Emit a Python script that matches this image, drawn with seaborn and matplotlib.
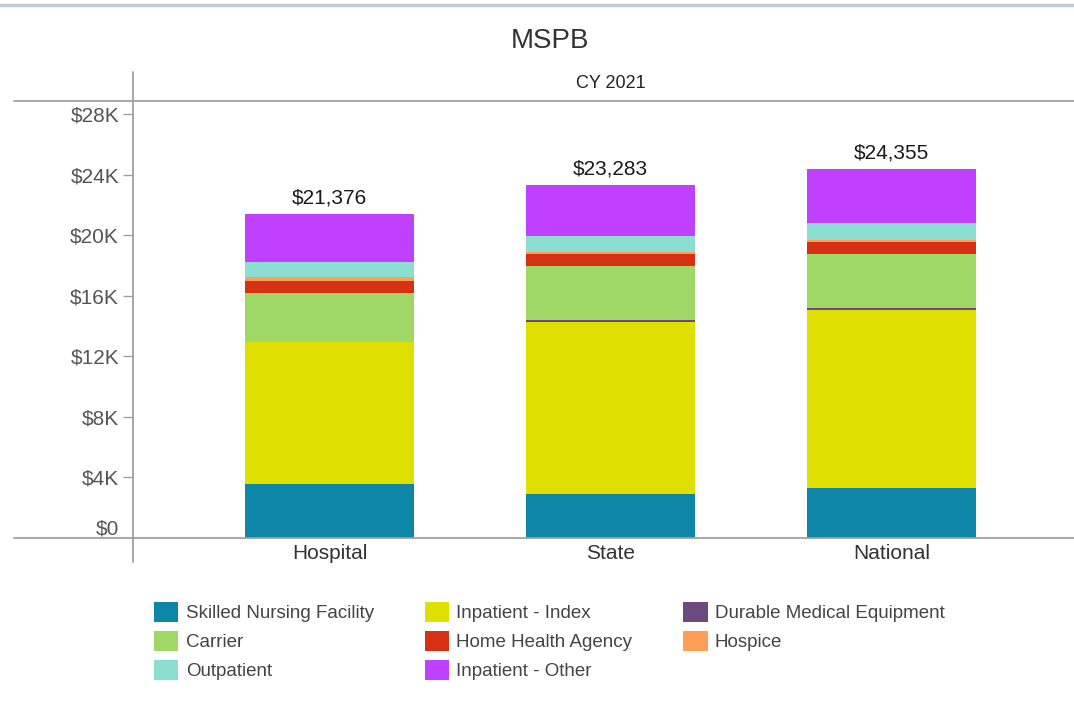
#!/usr/bin/env python3
# -*- coding: utf-8 -*-
# %% IMPORTO LIBRERIAS
import matplotlib
matplotlib.use("Agg")
import matplotlib.pyplot as plt
from matplotlib.lines import Line2D
from matplotlib.patches import Patch
import numpy as np
import seaborn as sns

# %% DATOS
categorias = ["Hospital", "State", "National"]
componentes = ["Skilled Nursing Facility", "Inpatient - Index", "Durable Medical Equipment",
               "Carrier", "Home Health Agency", "Hospice", "Outpatient", "Inpatient - Other"]

snf = [3570, 2900, 3320]
inpatient_index = [9360, 11350, 11740]
dme = [0, 150, 150]
carrier = [3230, 3550, 3550]
home_health = [840, 830, 810]
hospice = [240, 130, 110]
outpatient = [960, 1060, 1150]
inpatient_other = [3176, 3313, 3525]
totales = [21376, 23283, 24355]

colores = ["#0e86a8", "#e0e000", "#6c4a7e", "#9fd866",
           "#d63114", "#ff9f55", "#8cdfd0", "#bf40ff"]

ticks_y = [0, 4000, 8000, 12000, 16000, 20000, 24000, 28000]
etiquetas_y = ["$0", "$4K", "$8K", "$12K", "$16K", "$20K", "$24K", "$28K"]

# %% GRAFICO DE BARRAS APILADAS
sns.set_style("white")
plt.rcParams['font.family'] = ['Liberation Sans', 'DejaVu Sans']

W, H = 1074, 701
fig = plt.figure(figsize=(W / 100, H / 100), dpi=100)
ax = fig.add_axes([133 / W, 1 - 538 / H, 1 - 133 / W, (538 - 101) / H])

valores = np.array([snf, inpatient_index, dme, carrier, home_health,
                    hospice, outpatient, inpatient_other])
acumulado = valores.cumsum(axis=0)

# se dibuja de arriba hacia abajo, cada capa tapa a la anterior
for i in range(len(componentes) - 1, -1, -1):
    sns.barplot(x=categorias, y=acumulado[i], color=colores[i], saturation=1,
                width=0.6, linewidth=0, errorbar=None, ax=ax)

ax.bar_label(ax.containers[0], labels=[f"${t:,}" for t in totales],
             padding=5, fontsize=15, color="#1a1a1a")

ax.set_xlim(-0.7, 2.65)
ax.set_ylim(0, 28860)
ax.set_yticks(ticks_y)
ax.set_yticklabels(etiquetas_y)
ax.set_xlabel("")
ax.set_ylabel("")
for s in ax.spines.values():
    s.set_visible(False)

ax.tick_params(axis="y", length=7, width=1, color="#a0a0a0", labelcolor="#555555",
               labelsize=15, pad=3, left=True)
ax.tick_params(axis="x", length=0, labelcolor="#333333", labelsize=15, pad=4)
ax.yaxis.get_major_ticks()[0].tick1line.set_visible(False)
ax.get_yticklabels()[0].set_va("bottom")

ax.text(1, (538 - 84) / (538 - 101), "CY 2021", transform=ax.get_xaxis_transform(),
        ha="center", va="center", fontsize=13, color="#222222")

# lineas del marco
gris = "#a0a0a0"
fig.add_artist(Line2D([0, 1], [1 - 5 / H, 1 - 5 / H], color="#c3cad3", lw=2.5))
fig.add_artist(Line2D([14 / W, 1], [1 - 101 / H, 1 - 101 / H], color=gris, lw=1.3))
fig.add_artist(Line2D([14 / W, 1], [1 - 538 / H, 1 - 538 / H], color=gris, lw=1.3))
fig.add_artist(Line2D([133 / W, 133 / W], [1 - 72 / H, 1 - 562 / H], color=gris, lw=1.3))

fig.text(550 / W, 1 - 41 / H, "MSPB", ha="center", va="center", fontsize=20, color="#333333")

# %% LEYENDA (orden por filas)
orden = [0, 3, 6, 1, 4, 7, 2, 5]
handles = [Patch(facecolor=colores[i], edgecolor="none") for i in orden]
labels = [componentes[i] for i in orden]
fig.legend(handles, labels, loc="upper left", bbox_to_anchor=(154 / W, 1 - 602 / H),
           ncol=3, frameon=False, borderpad=0, borderaxespad=0, fontsize=13.5,
           handlelength=1.3, handleheight=1.25, handletextpad=0.4,
           labelspacing=0.47, columnspacing=2.7, labelcolor="#444444")

fig.savefig("out.png", dpi=100)
